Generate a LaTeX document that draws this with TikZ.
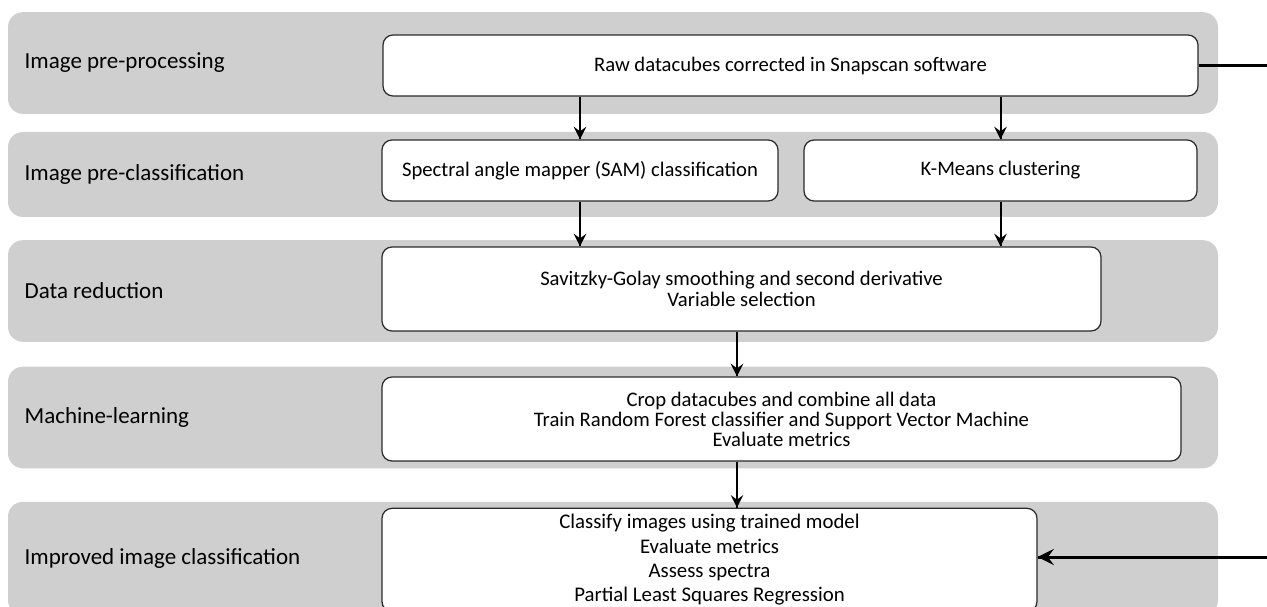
\documentclass[tikz,border=0pt]{standalone}
\usepackage{fontspec}
\setmainfont{Carlito}
\usepackage{tikz}
\usetikzlibrary{shapes,arrows,positioning}
\usetikzlibrary{arrows,decorations.markings}
\definecolor{bandColor}{HTML}{CFCFCF}
\definecolor{boxLine}{HTML}{2A2A2A}
\tikzstyle{band} = [rectangle, rounded corners=9pt, fill=bandColor, minimum width=726pt]
\tikzstyle{stage} = [font=\fontsize{13.8}{16}\selectfont, anchor=west, inner sep=0pt]
\tikzstyle{roundrect} = [rectangle, rounded corners=6pt, draw=boxLine, line width=0.75pt, fill=white, align=center, font=\fontsize{12.4}{12.6}\selectfont]
\tikzstyle{arrow} = [line width=1.2pt, decoration={markings,mark=at position 1 with
	{\arrow[scale=1.5,>=stealth]{>}}},postaction={decorate}]
\tikzstyle{feed} = [line width=1.8pt]

\begin{document}
\begin{tikzpicture}[x=0.6pt, y=-0.6pt]
			\clip (0,0) rectangle (1267,607);
			
			% stage bands
			\node (band1) [band, minimum height=61pt] at (613,63) {};
			\node (band2) [band, minimum height=51pt] at (613,174.5) {};
			\node (band3) [band, minimum height=61pt] at (613,291) {};
			\node (band4) [band, minimum height=61pt] at (613,417.5) {};
			\node (band5) [band, minimum height=68pt] at (613,558.5) {};
			
			\node (lbl1) [stage, right=10pt of band1.west] {Image pre-processing};
			\node (lbl2) [stage, right=10pt of band2.west] {Image pre-classification};
			\node (lbl3) [stage, right=10pt of band3.west] {Data reduction};
			\node (lbl4) [stage, right=10pt of band4.west] {Machine-learning};
			\node (lbl5) [stage, right=10pt of band5.west] {Improved image classification};
			
			% steps
			\node (raw) [roundrect, minimum width=489pt, minimum height=36.6pt] at (790.5,65.5) {Raw datacubes corrected in Snapscan software};
			\node (sam) [roundrect, minimum width=237.6pt, minimum height=36.6pt] at (580,170.5) {Spectral angle mapper (SAM) classification};
			\node (kmeans) [roundrect, minimum width=235.8pt, minimum height=36.6pt] at (1000.5,170.5) {K-Means clustering};
			\node (reduce) [roundrect, minimum width=431.4pt, minimum height=50.4pt] at (741.5,289) {
				Savitzky-Golay smoothing and second derivative\\
				Variable selection};
			\node (learn) [roundrect, minimum width=479.4pt, minimum height=50.4pt, font=\fontsize{12.4}{12}\selectfont] at (781.5,419) {
				Crop datacubes and combine all data\\
				Train Random Forest classifier and Support Vector Machine\\
				Evaluate metrics};
			\node (classify) [roundrect, minimum width=393pt, minimum height=62pt, font=\fontsize{12.5}{14.6}\selectfont] at (709.5,560) {
				Classify images using trained model\\
				Evaluate metrics\\
				Assess spectra\\
				Partial Least Squares Regression};
			
			\coordinate (feedTop) at (1280,65.5);
			\coordinate (feedBot) at (1280,557);
			
			\draw [arrow] (raw.south -| sam.north) -- (sam.north);
			\draw [arrow] (raw.south -| kmeans.north) -- (kmeans.north);
			\draw [arrow] (sam.south) -- (sam.south |- reduce.north);
			\draw [arrow] (kmeans.south) -- (kmeans.south |- reduce.north);
			\draw [arrow] (reduce.south -| 737,0) -- (learn.north -| 737,0);
			\draw [arrow] (learn.south -| 737,0) -- (classify.north -| 737,0);
			
			\draw [feed] (raw.east) -- (feedTop);
			\draw [arrow, line width=1.8pt] (feedBot) -- (feedBot -| classify.east);
			
			\end{tikzpicture}
\end{document}
